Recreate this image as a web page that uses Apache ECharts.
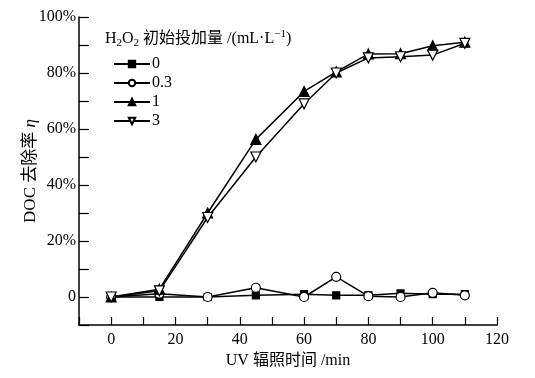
<!DOCTYPE html>
<html>
<head>
<meta charset="utf-8">
<script src="https://cdn.jsdelivr.net/npm/echarts@6/dist/echarts.min.js"></script>
<style>
  html, body { margin: 0; padding: 0; background: #fff; }
  #main { width: 535px; height: 378px; }
</style>
</head>
<body>
<div id="main"></div>
<script>
var times = [0, 15, 30, 45, 60, 70, 80, 90, 100, 110];
var dose0 = [0, 0, 0, 0.6, 1, 0.6, 0.6, 1.3, 1, 1];
var dose03 = [0, 1.2, 0, 3.3, 0, 7.2, 0.3, 0, 1.5, 0.6];
var dose1 = [0, 2.8, 30, 56.3, 73.4, 80.4, 86.8, 86.9, 89.7, 91];
var dose3 = [0, 2.2, 28.4, 50, 69, 80, 85.4, 85.8, 86.4, 90.6];
var seriesNames = ['0', '0.3', '1', '3'];

var serif = '"Liberation Serif", "Times New Roman", "Noto Sans CJK SC", serif';

function pairs(arr) {
  return times.map(function (t, i) { return [t, arr[i]]; });
}

var myChart = echarts.init(document.getElementById('main'));

function lineSeries(name, data, symbol, size, fill) {
  return {
    name: name,
    type: 'line',
    data: pairs(data),
    symbol: symbol,
    symbolSize: size,
    showAllSymbol: true,
    lineStyle: { color: '#000', width: 1.5 },
    itemStyle: { color: fill, borderColor: '#000', borderWidth: 1.2 },
    emphasis: { disabled: true },
    z: 3
  };
}

var option = {
  animation: false,
  backgroundColor: '#fff',
  textStyle: { fontFamily: serif },
  title: {
    left: 100,
    top: 24,
    text: '{a|H}{s|2}{a|O}{s|2}{a| 初始投加量 /(mL·L}{p|−1}{a|)}',
    textStyle: {
      fontWeight: 'normal',
      rich: {
        a: { fontFamily: serif, fontSize: 16, fontWeight: 'normal', color: '#000', lineHeight: 20 },
        s: { fontFamily: serif, fontSize: 11, fontWeight: 'normal', color: '#000', verticalAlign: 'bottom', lineHeight: 14 },
        p: { fontFamily: serif, fontSize: 11, fontWeight: 'normal', color: '#000', verticalAlign: 'top', lineHeight: 14 }
      }
    }
  },
  legend: {
    orient: 'vertical',
    left: 108,
    top: 51,
    itemWidth: 36,
    itemHeight: 8,
    itemGap: 3,
    data: seriesNames,
    textStyle: { fontFamily: serif, fontSize: 16, color: '#000', padding: [0, 0, 0, -3] }
  },
  grid: { left: 79, right: 38, top: 17, bottom: 53 },
  xAxis: {
    type: 'value',
    min: -10,
    max: 120,
    interval: 10,
    name: 'UV 辐照时间 /min',
    nameLocation: 'middle',
    nameGap: 27,
    nameTextStyle: { fontFamily: serif, fontSize: 16, color: '#000' },
    axisLine: { onZero: false, lineStyle: { color: '#000', width: 1.5 } },
    axisTick: { inside: true, length: 8, lineStyle: { color: '#000', width: 1.2 } },
    axisLabel: {
      color: '#000', fontSize: 16, fontFamily: serif, margin: 7,
      formatter: function (v) { return (v >= 0 && v % 20 === 0) ? String(v) : ''; }
    },
    splitLine: { show: false }
  },
  yAxis: {
    type: 'value',
    min: -10,
    max: 100,
    interval: 10,
    name: '{a|DOC 去除率 }{i|η}',
    nameLocation: 'middle',
    nameGap: 40,
    nameMoveOverlap: false,
    nameRotate: 90,
    nameTextStyle: {
      rich: {
        a: { fontFamily: serif, fontSize: 17, color: '#000' },
        i: { fontFamily: serif, fontSize: 17, color: '#000', fontStyle: 'italic' }
      }
    },
    axisLine: { onZero: false, lineStyle: { color: '#000', width: 1.5 } },
    axisTick: { inside: true, length: 10, lineStyle: { color: '#000', width: 1.2 } },
    axisLabel: {
      color: '#000', fontSize: 16, fontFamily: serif, margin: 3,
      formatter: function (v) {
        if (v < 0 || v % 20 !== 0) return '';
        return v === 0 ? '0' : v + '%';
      }
    },
    splitLine: { show: false }
  },
  series: [
    lineSeries('0', dose0, 'rect', 7, '#000'),
    lineSeries('0.3', dose03, 'circle', 9, '#fff'),
    lineSeries('1', dose1, 'triangle', 10, '#000'),
    lineSeries('3', dose3, 'path://M0,0 L10,0 L5,9 Z', 10, '#fff')
  ]
};

myChart.setOption(option);
</script>
</body>
</html>
